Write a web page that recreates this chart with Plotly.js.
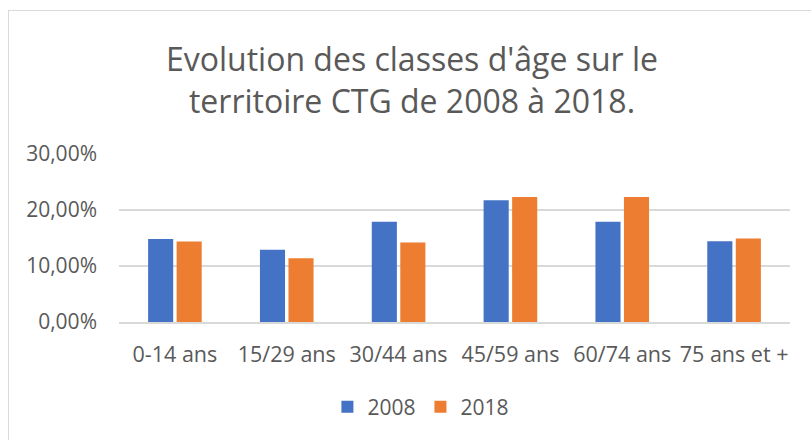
<!DOCTYPE html>
<html>
<head>
<meta charset="utf-8">
<script src="https://cdn.plot.ly/plotly-3.0.1.min.js"></script>
<style>
  html, body { margin: 0; padding: 0; background: #ffffff; overflow: hidden; }
  #frame { position: absolute; left: 8px; top: 10px; width: 820px; height: 450px; border: 1px solid #d9d9d9; box-sizing: border-box; }
  #chart { position: absolute; left: 0; top: 0; width: 811px; height: 440px; }
</style>
</head>
<body>
<div id="frame"></div>
<div id="chart"></div>
<script>
const categories = ["0-14 ans", "15/29 ans", "30/44 ans", "45/59 ans", "60/74 ans", "75 ans et +"];
const values2008 = [0.148, 0.129, 0.179, 0.2175, 0.179, 0.144];
const values2018 = [0.1437, 0.114, 0.142, 0.223, 0.223, 0.149];
const seriesNames = ["2008", "2018"];
const yTicks = [0, 0.10, 0.20, 0.30];

const font = "Open Sans, Noto Sans, sans-serif";
const grey = "#595959";

const traces = [
  { type: "bar", x: categories, y: values2008, name: seriesNames[0], marker: { color: "#4472C4" }, hoverinfo: "none" },
  { type: "bar", x: categories, y: values2018, name: seriesNames[1], marker: { color: "#ED7D31" }, hoverinfo: "none" }
];

const layout = {
  width: 811, height: 440,
  paper_bgcolor: "rgba(0,0,0,0)",
  plot_bgcolor: "rgba(0,0,0,0)",
  separators: ", ",
  margin: { l: 119, r: 21, t: 154, b: 118 },
  barmode: "group",
  bargap: 0.49,
  bargroupgap: 0.12,
  title: {
    text: "Evolution des classes d'âge sur le<br>territoire CTG de 2008 à 2018.",
    font: { family: font, size: 32, color: grey },
    x: 0.508, xanchor: "center", xref: "container",
    y: 0.838, yanchor: "middle", yref: "container"
  },
  xaxis: {
    type: "category",
    showgrid: false, zeroline: false,
    showline: true, linecolor: "#d9d9d9", linewidth: 1.5,
    ticks: "", ticklabelstandoff: 13,
    tickfont: { family: font, size: 21.5, color: grey }
  },
  yaxis: {
    range: [0, 0.30],
    tickvals: yTicks,
    tickformat: ".2%",
    showgrid: true, gridcolor: "#d9d9d9", gridwidth: 1.5,
    zeroline: false, showline: false,
    ticks: "", ticklabelstandoff: 21,
    tickfont: { family: font, size: 21, color: grey }
  },
  showlegend: true,
  legend: {
    orientation: "h",
    xref: "container", yref: "container",
    x: 0.519, xanchor: "center",
    y: 0.075, yanchor: "middle",
    font: { family: font, size: 21, color: grey },
    itemwidth: 30, traceorder: "normal"
  }
};

Plotly.newPlot("chart", traces, layout, { displayModeBar: false, staticPlot: true });
</script>
</body>
</html>
